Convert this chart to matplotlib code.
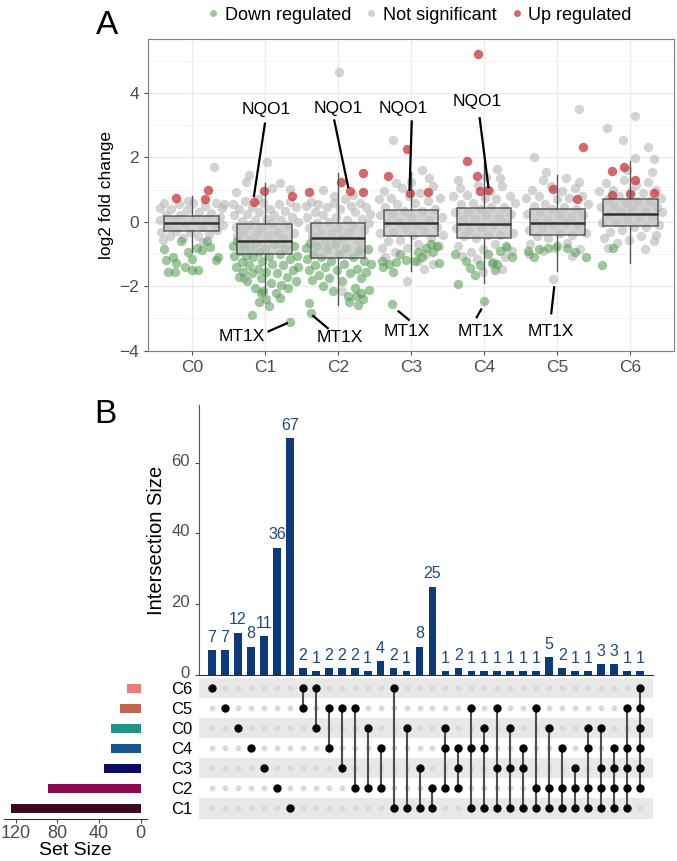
import numpy as np
import matplotlib
matplotlib.use('Agg')
import matplotlib.pyplot as plt
from matplotlib.lines import Line2D
from matplotlib.transforms import ScaledTranslation

plt.rcParams['font.family'] = ['Liberation Sans', 'DejaVu Sans']

# ---------------- panel A data ----------------
clusters = ['C0', 'C1', 'C2', 'C3', 'C4', 'C5', 'C6']

# box statistics (med, q1, q3, lower whisker, upper whisker)
box_med = [-0.04, -0.60, -0.50, -0.02, -0.06, -0.03, 0.25]
box_q1 = [-0.27, -0.99, -1.13, -0.45, -0.51, -0.42, -0.14]
box_q3 = [0.17, -0.07, -0.05, 0.36, 0.42, 0.40, 0.70]
box_lo = [-0.92, -2.20, -2.58, -1.54, -1.90, -1.54, -1.28]
box_hi = [0.79, 1.22, 1.51, 1.56, 1.87, 1.46, 1.89]

# jittered genes per cluster: (x offset, log2 fold change)
grey_pts = [
    [(-0.44, 0.42), (-0.44, 0.05), (-0.42, -0.30), (-0.38, 0.60), (-0.36, 0.20), (-0.33, -0.12),
     (-0.30, -0.45), (-0.28, 0.40), (-0.24, 0.05), (-0.22, -0.28), (-0.18, 0.55), (-0.16, 0.22),
     (-0.12, -0.50), (-0.10, -0.08), (-0.06, 0.38), (-0.02, -0.32), (0.02, 0.60), (0.04, 0.10),
     (0.08, -0.45), (0.10, 0.32), (0.14, -0.15), (0.18, 0.50), (0.20, 0.08), (0.24, -0.38),
     (0.26, 0.28), (0.30, -0.05), (0.33, 0.58), (0.35, -0.25), (0.38, 0.15), (0.41, 0.42),
     (0.43, -0.10), (0.44, 0.55), (0.30, 1.69), (-0.40, -0.55), (0.15, -0.62), (-0.05, 0.65)],
    [(-0.44, 0.55), (-0.42, 0.20), (-0.40, -0.15), (-0.38, -0.45), (-0.35, 0.40), (-0.32, 0.02),
     (-0.30, -0.30), (-0.27, 0.65), (-0.25, 0.25), (-0.22, -0.10), (-0.20, -0.55), (-0.17, 0.45),
     (-0.14, 0.05), (-0.11, -0.35), (-0.08, 0.30), (-0.05, -0.15), (-0.02, 0.60), (0.01, 0.10),
     (0.04, -0.45), (0.07, 0.40), (0.10, -0.05), (0.13, 0.20), (0.16, -0.30), (0.19, 0.55),
     (0.22, 0.05), (0.25, -0.50), (0.28, 0.35), (0.31, -0.10), (0.34, 0.62), (0.37, 0.15),
     (0.40, -0.35), (0.43, 0.45), (0.45, 0.00), (-0.10, 0.70), (0.20, -0.70), (-0.30, -0.70),
     (0.03, 1.85), (-0.22, 1.46), (-0.26, 1.25), (-0.39, 0.94), (0.20, 1.22), (0.34, 1.01),
     (-0.28, -1.75), (0.10, 1.05)],
    [(-0.44, 0.50), (-0.42, 0.15), (-0.40, -0.20), (-0.37, 0.62), (-0.35, -0.45), (-0.32, 0.30),
     (-0.29, -0.05), (-0.27, 0.55), (-0.24, -0.30), (-0.21, 0.20), (-0.18, -0.60), (-0.15, 0.45),
     (-0.12, 0.00), (-0.09, -0.35), (-0.06, 0.60), (-0.03, 0.15), (0.00, -0.20), (0.03, 0.40),
     (0.06, -0.50), (0.09, 0.70), (0.12, 0.05), (0.15, -0.30), (0.18, 0.50), (0.21, -0.10),
     (0.24, 0.30), (0.27, -0.55), (0.30, 0.60), (0.33, 0.10), (0.36, -0.25), (0.39, 0.45),
     (0.42, -0.05), (0.44, 0.25), (-0.05, 0.80), (0.20, 0.85), (0.01, 4.64), (0.05, -2.14),
     (-0.20, 1.00), (0.30, -0.85)],
    [(-0.44, 0.70), (-0.43, 0.20), (-0.42, -0.35), (-0.40, -0.80), (-0.37, 0.95), (-0.35, 0.45),
     (-0.33, -0.05), (-0.31, -0.60), (-0.28, 0.75), (-0.26, 0.25), (-0.24, -0.30), (-0.22, -0.95),
     (-0.19, 0.55), (-0.17, 0.00), (-0.15, -0.55), (-0.12, 1.05), (-0.10, 0.35), (-0.08, -0.20),
     (-0.05, -0.80), (-0.03, 0.80), (0.00, 0.15), (0.03, -0.40), (0.05, 0.60), (0.08, -0.10),
     (0.10, -0.70), (0.13, 0.90), (0.15, 0.35), (0.18, -0.25), (0.20, -1.00), (0.23, 0.65),
     (0.25, 0.05), (0.28, -0.50), (0.30, 1.10), (0.33, 0.40), (0.35, -0.15), (0.38, -0.75),
     (0.40, 0.75), (0.42, 0.15), (0.44, -0.40), (0.00, 1.25), (-0.20, 1.20), (0.25, 1.35),
     (0.10, -1.20), (0.30, -1.30), (-0.35, -1.10), (-0.24, 2.55), (0.15, 1.60), (-0.05, -1.85),
     (0.18, -1.45)],
    [(-0.42, 0.80), (-0.40, 0.30), (-0.38, -0.20), (-0.36, -0.75), (-0.33, 1.05), (-0.31, 0.55),
     (-0.29, 0.05), (-0.27, -0.45), (-0.24, 0.85), (-0.22, 0.30), (-0.20, -0.25), (-0.18, -0.95),
     (-0.15, 0.60), (-0.13, 0.10), (-0.11, -0.50), (-0.08, 1.15), (-0.06, 0.40), (-0.04, -0.15),
     (-0.02, -0.85), (0.01, 0.75), (0.03, 0.20), (0.05, -0.40), (0.08, 0.95), (0.10, 0.45),
     (0.12, -0.10), (0.15, -0.70), (0.17, 0.70), (0.20, 0.15), (0.22, -0.40), (0.25, 1.10),
     (0.27, 0.45), (0.30, -0.05), (0.32, -0.80), (0.35, 0.80), (0.37, 0.25), (0.40, -0.35),
     (0.42, 0.60), (-0.35, 1.30), (0.22, 1.35), (0.02, 1.40), (-0.10, -1.15), (0.28, -1.10),
     (-0.30, -1.05), (0.12, -1.25), (0.38, -0.90), (0.18, 1.65), (-0.02, -1.55), (0.25, -1.45)],
    [(-0.43, 0.75), (-0.41, 0.25), (-0.39, -0.25), (-0.37, -0.70), (-0.34, 1.00), (-0.32, 0.50),
     (-0.30, 0.00), (-0.28, -0.45), (-0.25, 0.80), (-0.23, 0.30), (-0.21, -0.20), (-0.19, -0.90),
     (-0.16, 0.55), (-0.14, 0.05), (-0.12, -0.50), (-0.09, 1.10), (-0.07, 0.40), (-0.05, -0.10),
     (-0.03, -0.80), (0.00, 0.70), (0.02, 0.20), (0.04, -0.35), (0.07, 0.95), (0.09, 0.45),
     (0.11, -0.05), (0.14, -0.65), (0.16, 0.75), (0.19, 0.15), (0.21, -0.40), (0.24, 1.05),
     (0.26, 0.40), (0.29, -0.10), (0.31, -0.85), (0.34, 0.80), (0.36, 0.20), (0.39, -0.35),
     (0.42, 0.55), (-0.20, 1.30), (0.12, 1.35), (0.30, 1.25), (-0.38, -1.00), (0.20, -1.05),
     (0.30, 3.50), (-0.32, 2.00), (-0.06, -1.77), (-0.15, 1.55)],
    [(-0.42, 0.95), (-0.40, 0.45), (-0.38, -0.05), (-0.36, -0.50), (-0.33, 1.20), (-0.31, 0.70),
     (-0.29, 0.20), (-0.27, -0.30), (-0.24, 1.00), (-0.22, 0.50), (-0.20, 0.00), (-0.18, -0.65),
     (-0.15, 0.80), (-0.13, 0.30), (-0.11, -0.25), (-0.08, 1.30), (-0.06, 0.60), (-0.04, 0.10),
     (-0.02, -0.55), (0.01, 0.95), (0.03, 0.40), (0.05, -0.15), (0.08, 1.15), (0.10, 0.65),
     (0.12, 0.15), (0.15, -0.45), (0.17, 0.90), (0.20, 0.35), (0.22, -0.15), (0.25, 1.25),
     (0.27, 0.65), (0.30, 0.15), (0.32, -0.60), (0.35, 1.00), (0.37, 0.45), (0.40, -0.10),
     (0.42, 0.75), (0.43, 0.30), (-0.30, -0.80), (0.20, -0.85), (0.35, -0.40), (0.30, 1.55),
     (-0.05, 1.60), (0.06, 3.30), (-0.32, 2.93), (-0.10, 2.55), (0.25, 2.32), (0.07, 1.98),
     (0.32, 1.95)],
]

green_pts = [
    [(-0.15, -0.58), (-0.38, -0.84), (-0.36, -1.18), (-0.32, -1.56), (-0.23, -1.56), (-0.09, -1.39),
     (0.00, -1.49), (0.09, -1.49), (0.00, -1.16), (0.07, -0.82), (0.21, -0.59), (0.33, -1.18),
     (0.36, -1.08), (-0.21, -1.28), (-0.26, -1.08), (0.14, -0.87), (-0.05, -0.95), (0.25, -0.78)],
    [(-0.44, -0.75), (-0.42, -1.05), (-0.40, -1.40), (-0.38, -0.60), (-0.36, -1.70), (-0.34, -0.90),
     (-0.32, -1.25), (-0.30, -1.55), (-0.28, -0.70), (-0.26, -1.05), (-0.24, -1.85), (-0.22, -1.35),
     (-0.20, -0.85), (-0.18, -1.60), (-0.16, -1.10), (-0.14, -2.05), (-0.12, -0.65), (-0.10, -1.45),
     (-0.08, -0.95), (-0.06, -1.75), (-0.04, -1.20), (-0.02, -2.15), (0.00, -0.80), (0.02, -1.55),
     (0.05, -1.05), (0.08, -1.90), (0.10, -1.30), (0.12, -0.70), (0.15, -2.20), (0.17, -1.60),
     (0.20, -1.00), (0.22, -1.95), (0.25, -1.35), (0.27, -0.80), (0.30, -1.70), (0.32, -2.05),
     (0.35, -1.15), (0.38, -1.50), (0.40, -0.75), (0.42, -1.85), (0.44, -1.05), (0.45, -1.40),
     (-0.08, -2.49), (0.01, -2.40), (0.06, -2.61), (-0.18, -2.89), (0.34, -3.10), (0.20, -2.35),
     (-0.05, -2.20)],
    [(-0.44, -0.80), (-0.42, -1.15), (-0.40, -1.50), (-0.38, -0.65), (-0.36, -1.80), (-0.34, -1.00),
     (-0.31, -1.35), (-0.28, -0.75), (-0.26, -1.65), (-0.23, -1.10), (-0.20, -2.00), (-0.18, -1.40),
     (-0.15, -0.85), (-0.12, -1.75), (-0.10, -1.20), (-0.07, -2.15), (-0.04, -0.70), (-0.01, -1.50),
     (0.02, -1.00), (0.05, -1.85), (0.08, -1.30), (0.11, -0.80), (0.14, -2.30), (0.17, -1.60),
     (0.20, -1.10), (0.23, -2.05), (0.26, -1.45), (0.29, -0.90), (0.32, -1.75), (0.34, -2.40),
     (0.36, -1.20), (0.39, -1.55), (0.41, -0.85), (0.43, -2.10), (0.45, -1.30), (-0.37, -2.82),
     (-0.39, -2.51), (0.28, -2.58), (0.31, -2.22), (0.25, -2.30), (0.15, -2.50)],
    [(-0.38, -1.41), (-0.25, -1.56), (-0.26, -2.55), (-0.07, -1.18), (0.09, -0.92), (0.39, -1.28),
     (0.27, -0.70), (0.20, -0.80), (-0.30, -1.30), (-0.15, -1.00), (0.05, -1.20), (0.30, -0.95),
     (-0.40, -1.20), (0.15, -1.10), (-0.20, -1.25), (0.35, -0.75)],
    [(-0.36, -1.93), (0.00, -2.47), (-0.19, -1.44), (-0.12, -1.65), (0.11, -1.28), (0.18, -1.31),
     (0.38, -1.08), (0.30, -0.75), (-0.25, -1.20), (-0.40, -1.00), (0.05, -1.00), (0.22, -0.90),
     (-0.05, -1.35), (0.15, -1.50)],
    [(-0.32, -1.08), (-0.12, -0.80), (0.13, -0.82), (0.40, -1.08), (0.00, -0.75), (-0.25, -0.85),
     (0.25, -0.95), (-0.40, -0.90)],
    [(-0.39, -1.34), (-0.23, -0.82)],
]

red_pts = [
    [(-0.22, 0.73), (0.22, 0.99), (0.18, 0.70)],
    [(-0.15, 0.63), (-0.01, 0.97), (0.37, 0.81)],
    [(-0.39, 0.92), (0.04, 1.25), (0.16, 0.97), (0.34, 1.51), (0.34, 0.92)],
    [(-0.06, 2.27), (-0.31, 1.44), (-0.02, 0.89), (0.23, 0.92)],
    [(-0.08, 5.22), (-0.23, 1.89), (-0.09, 1.41), (0.06, 0.99), (-0.05, 0.95)],
    [(-0.06, 1.01), (0.27, 0.70), (0.36, 2.32)],
    [(-0.25, 1.59), (-0.08, 1.70), (0.07, 1.30), (-0.25, 0.82), (0.00, 0.87), (0.32, 0.89)],
]

# gene labels: (text, cluster index, text dx, text y, line start dx, y, line end dx, y)
gene_labels = [
    ('NQO1', 1, 0.02, 3.48, 0.00, 3.05, -0.15, 0.80),
    ('NQO1', 2, 0.01, 3.53, -0.05, 3.15, 0.14, 1.08),
    ('NQO1', 3, -0.11, 3.53, 0.01, 3.12, -0.02, 1.00),
    ('NQO1', 4, -0.10, 3.74, -0.06, 3.22, 0.06, 1.08),
    ('MT1X', 1, -0.31, -3.56, 0.05, -3.40, 0.30, -3.15),
    ('MT1X', 2, 0.03, -3.58, -0.14, -3.30, -0.34, -2.92),
    ('MT1X', 3, -0.06, -3.41, -0.03, -3.04, -0.17, -2.78),
    ('MT1X', 4, -0.04, -3.41, -0.10, -2.96, -0.04, -2.72),
    ('MT1X', 5, -0.09, -3.39, -0.08, -2.84, -0.04, -2.03),
]

# ---------------- panel B data ----------------
set_names = ['C6', 'C5', 'C0', 'C4', 'C3', 'C2', 'C1']
set_colors = ['#ef7b78', '#c0664f', '#1f9486', '#18548f', '#0c0c66', '#8a0a50', '#3b0a25']
combos = [
    ('C6',), ('C5',), ('C0',), ('C4',), ('C3',), ('C2',), ('C1',),
    ('C6', 'C5'), ('C6', 'C0'), ('C5', 'C4'), ('C5', 'C3'), ('C5', 'C2'), ('C0', 'C2'),
    ('C4', 'C2'), ('C6', 'C1'), ('C0', 'C1'), ('C3', 'C1'), ('C2', 'C1'),
    ('C0', 'C4', 'C2'), ('C4', 'C3', 'C2'), ('C5', 'C4', 'C1'), ('C0', 'C4', 'C1'),
    ('C5', 'C3', 'C1'), ('C0', 'C3', 'C1'), ('C4', 'C3', 'C1'), ('C5', 'C2', 'C1'),
    ('C0', 'C2', 'C1'), ('C4', 'C2', 'C1'), ('C3', 'C2', 'C1'),
    ('C0', 'C4', 'C2', 'C1'), ('C0', 'C3', 'C2', 'C1'), ('C4', 'C3', 'C2', 'C1'),
    ('C5', 'C4', 'C3', 'C2', 'C1'), ('C6', 'C5', 'C0', 'C4', 'C3', 'C2'),
]
combo_sizes = [7, 7, 12, 8, 11, 36, 67, 2, 1, 2, 2, 2, 1, 4, 2, 1, 8, 25,
               1, 2, 1, 1, 1, 1, 1, 1, 5, 2, 1, 1, 3, 3, 1, 1]

set_sizes = [sum(n for c, n in zip(combos, combo_sizes) if s in c) for s in set_names]

# ---------------- figure ----------------
W, H = 677, 861
fig = plt.figure(figsize=(W / 100, H / 100), dpi=100)


def box(l, t, r, b):
    return [l / W, 1 - b / H, (r - l) / W, (b - t) / H]


tick_col = '#4d4d4d'

# panel A
ax = fig.add_axes(box(148, 39, 674, 351))
xs = np.arange(len(clusters))
for i in xs:
    for pts, col, a in ((grey_pts[i], '#b0b0b0', 0.55),
                        (green_pts[i], '#4f9a4f', 0.55),
                        (red_pts[i], '#c83737', 0.75)):
        p = np.array(pts)
        ax.scatter(i + p[:, 0], p[:, 1], s=46, color=col, alpha=a, lw=0, zorder=2)

stats = [dict(med=box_med[i], q1=box_q1[i], q3=box_q3[i], whislo=box_lo[i],
              whishi=box_hi[i], fliers=[]) for i in range(len(clusters))]
ax.bxp(stats, positions=xs, widths=0.75, patch_artist=True, showcaps=False,
       showfliers=False,
       boxprops=dict(facecolor='#c4c4c4', alpha=0.75, edgecolor='#333333', lw=1.1),
       medianprops=dict(color='#333333', lw=1.8),
       whiskerprops=dict(color='#555555', lw=1.0), zorder=3)

for txt, ci, tdx, ty, sdx, sy, edx, ey in gene_labels:
    ax.plot([ci + sdx, ci + edx], [sy, ey], color='black', lw=1.6, zorder=5)
    ax.text(ci + tdx, ty, txt, ha='center', va='center', fontsize=12.5, zorder=6)

ax.set_xlim(-0.6, 6.6)
ax.set_ylim(-4.01, 5.68)
ax.set_xticks(xs)
ax.set_xticklabels(clusters)
ax.set_yticks([-4, -2, 0, 2, 4])
ax.set_yticks([-3, -1, 1, 3, 5], minor=True)
ax.grid(True, which='major', color='#ebebeb', lw=1.0, zorder=0)
ax.grid(True, which='minor', axis='y', color='#f2f2f2', lw=0.7, zorder=0)
ax.set_axisbelow(True)
ax.tick_params(which='major', colors=tick_col, labelsize=12.5, length=3)
ax.tick_params(which='minor', length=0)
for sp in ax.spines.values():
    sp.set_color('#7f7f7f')
ax.set_ylabel('log2 fold change', fontsize=12.5)

handles = [Line2D([], [], ls='', marker='o', ms=5, color=c, alpha=a, mew=0)
           for c, a in (('#4f9a4f', 0.55), ('#b0b0b0', 0.55), ('#c83737', 0.75))]
fig.legend(handles, ['Down regulated', 'Not significant', 'Up regulated'], loc='center',
           bbox_to_anchor=(418 / W, 1 - 15 / H), ncol=3, frameon=False, fontsize=13,
           handletextpad=0.15, columnspacing=0.6, handlelength=1.0)

fig.text(107 / W, 1 - 25 / H, 'A', fontsize=24, ha='center', va='center')
fig.text(105 / W, 1 - 414 / H, 'B', fontsize=24, ha='center', va='center')

# panel B: intersection bars
bar_col = '#0c3a7a'
cx = np.arange(len(combos))
axb = fig.add_axes(box(199, 405, 653, 675))
axb.bar(cx, combo_sizes, width=0.6, color=bar_col)
for x, n in zip(cx, combo_sizes):
    axb.text(x, n + 1.5, str(n), ha='center', va='bottom', fontsize=11.5, color='#24467e')
axb.set_xlim(-1, len(combos))
axb.set_ylim(0, 76.3)
axb.set_xticks([])
axb.set_yticks([0, 20, 40, 60])
axb.tick_params(axis='y', colors=tick_col, labelsize=12, length=3)
# nudge tick labels up a little so "0" clears the C6 row label
for lab in axb.get_yticklabels():
    lab.set_transform(lab.get_transform() + ScaledTranslation(0, 3 / 100, fig.dpi_scale_trans))
axb.spines[['top', 'right']].set_visible(False)
axb.spines['left'].set_color('#555555')
axb.spines['bottom'].set_color('#333333')
axb.set_ylabel('Intersection Size', fontsize=14.5)

# panel B: membership matrix
axm = fig.add_axes(box(199, 678, 653, 818.5))
rows = np.arange(len(set_names))
for r in rows[::2]:
    axm.axhspan(r - 0.5, r + 0.5, color='#e8e8e8', lw=0, zorder=0)
for x, c in zip(cx, combos):
    axm.plot(np.full(len(rows), x), rows, ls='', marker='o', ms=3.2, color='#d9d9d9', zorder=1)
    on = [set_names.index(s) for s in c]
    if len(on) > 1:
        axm.plot([x, x], [min(on), max(on)], color='#4d4d4d', lw=1.5, zorder=2)
    axm.plot(np.full(len(on), x), on, ls='', marker='o', ms=5, color='black', zorder=3)
axm.set_xlim(-1, len(combos))
axm.set_ylim(len(set_names) - 0.5, -0.5)
axm.set_xticks([])
axm.set_yticks(rows)
axm.set_yticklabels(set_names, fontsize=12)
axm.tick_params(axis='y', length=0, pad=5)
for sp in axm.spines.values():
    sp.set_visible(False)

# panel B: set sizes
axs = fig.add_axes(box(4, 678, 147, 818.5))
axs.barh(rows, set_sizes, height=0.45, color=set_colors)
axs.set_xlim(131.25, -6.25)
axs.set_ylim(len(set_names) - 0.5, -0.5)
axs.set_yticks([])
axs.set_xticks([0, 40, 80, 120])
axs.tick_params(axis='x', colors=tick_col, labelsize=13, length=3, pad=2)
axs.spines[['top', 'right', 'left']].set_visible(False)
axs.spines['bottom'].set_color('#333333')
axs.set_xlabel('Set Size', fontsize=14, labelpad=0)

fig.savefig('out.png', dpi=100)
